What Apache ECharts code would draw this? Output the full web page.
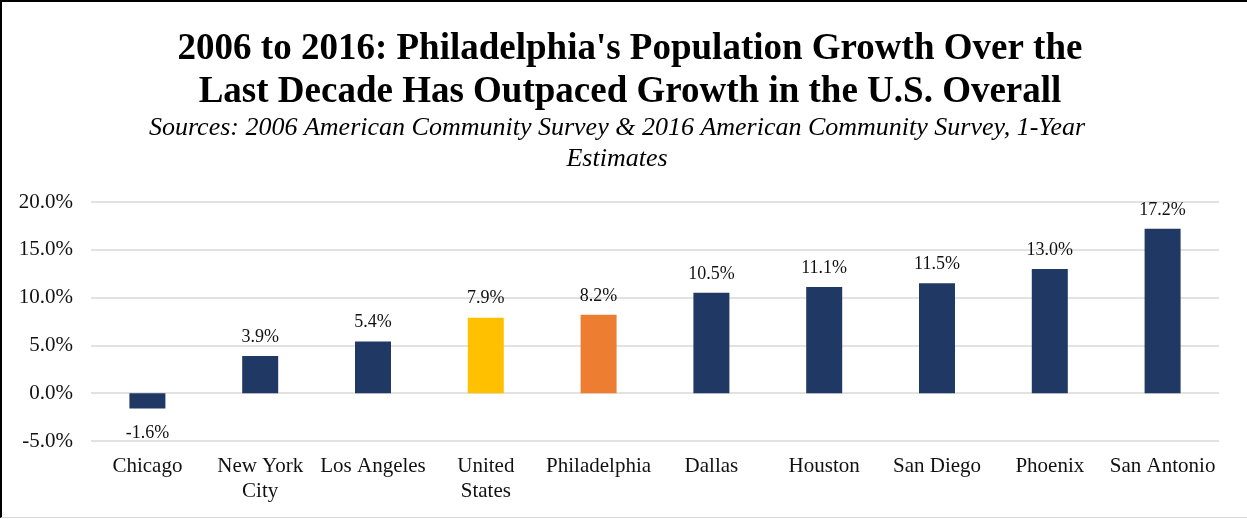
<!DOCTYPE html>
<html>
<head>
<meta charset="utf-8">
<script src="https://cdn.jsdelivr.net/npm/echarts@6/dist/echarts.min.js"></script>
<style>
  html, body { margin: 0; padding: 0; background: #fff; }
  #chart { position: absolute; left: 0; top: 0; width: 1247px; height: 519px; }
  #frame { position: absolute; left: 0; top: 0; width: 1247px; height: 518px; box-sizing: border-box;
           border-top: 2px solid #000; border-left: 2px solid #000; border-bottom: 1px solid #d9d9d9; pointer-events: none; }
</style>
</head>
<body>
<div id="chart"></div>
<div id="frame"></div>
<script>
const categories = ["Chicago", "New York\nCity", "Los Angeles", "United\nStates", "Philadelphia", "Dallas", "Houston", "San Diego", "Phoenix", "San Antonio"];
const growthPct = [-1.6, 3.9, 5.4, 7.9, 8.2, 10.5, 11.1, 11.5, 13.0, 17.2];
const barColors = ["#203864", "#203864", "#203864", "#FFC000", "#ED7D31", "#203864", "#203864", "#203864", "#203864", "#203864"];
const yTicks = { min: -5, max: 20, interval: 5 };
const titleText = "2006 to 2016: Philadelphia's Population Growth Over the\nLast Decade Has Outpaced Growth in the U.S. Overall";
const subtitleText = "Sources: 2006 American Community Survey & 2016 American Community Survey, 1-Year\nEstimates";

const serif = "'Liberation Serif', 'Times New Roman', serif";
const chart = echarts.init(document.getElementById('chart'));
chart.setOption({
  animation: false,
  title: [
    { text: titleText, left: 625, top: 23, textAlign: 'center',
      textStyle: { fontFamily: serif, fontWeight: 'bold', fontSize: 37, lineHeight: 43, color: '#000' } },
    { text: subtitleText, left: 612, top: 107, textAlign: 'center',
      textStyle: { fontFamily: serif, fontStyle: 'italic', fontWeight: 'normal', fontSize: 26, lineHeight: 31.5, color: '#000' } }
  ],
  grid: { left: 91, right: 28, top: 202, bottom: 78, containLabel: false },
  xAxis: {
    type: 'category', data: categories,
    axisLine: { show: false, onZero: false }, axisTick: { show: false },
    axisLabel: { fontFamily: serif, fontSize: 21, color: '#111', margin: 13, lineHeight: 25, interval: 0 }
  },
  yAxis: {
    type: 'value', min: yTicks.min, max: yTicks.max, interval: yTicks.interval,
    axisLine: { show: false }, axisTick: { show: false },
    axisLabel: { fontFamily: serif, fontSize: 21, color: '#111', margin: 18, formatter: v => v.toFixed(1) + '%' },
    splitLine: { lineStyle: { color: '#d9d9d9', width: 1.5 } }
  },
  series: [{
    type: 'bar', barWidth: 36,
    data: growthPct.map((v, i) => ({
      value: v,
      itemStyle: { color: barColors[i] },
      label: v < 0 ? { position: 'bottom', distance: 16 } : { position: 'top', distance: 10 }
    })),
    label: { show: true, fontFamily: serif, fontSize: 18, color: '#111', formatter: p => p.value.toFixed(1) + '%' }
  }]
});
</script>
</body>
</html>
